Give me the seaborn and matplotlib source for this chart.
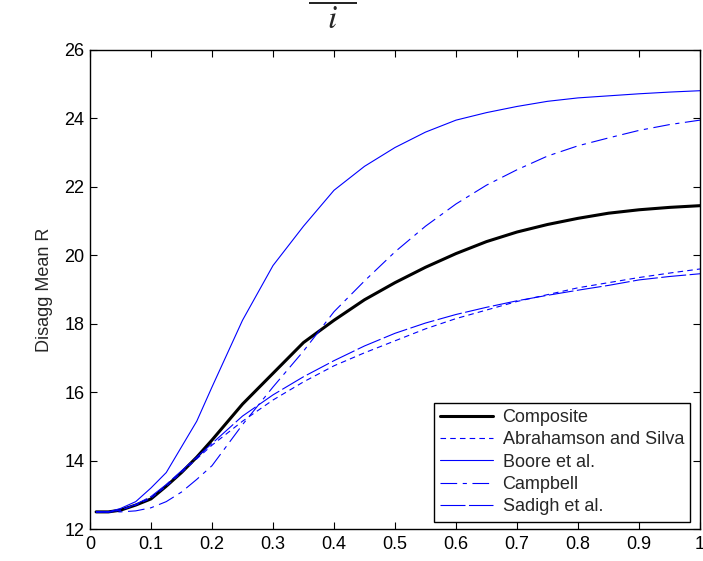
import pandas as pd
import matplotlib.pyplot as plt
import seaborn as sns

# valores
x_vals = [0.01, 0.03, 0.05, 0.075, 0.1, 0.125, 0.15, 0.175, 0.2, 0.25, 0.3, 0.35,
          0.4, 0.45, 0.5, 0.55, 0.6, 0.65, 0.7, 0.75, 0.8, 0.85, 0.9, 0.95, 1.0]

composite = [12.5, 12.5, 12.55, 12.7, 12.88, 13.25, 13.65, 14.1, 14.6, 15.65, 16.55, 17.45,
             18.1, 18.7, 19.2, 19.65, 20.05, 20.4, 20.68, 20.9, 21.08, 21.23, 21.33, 21.4, 21.45]
abrahamson = [12.5, 12.5, 12.55, 12.7, 12.9, 13.25, 13.65, 14.05, 14.45, 15.15, 15.77, 16.3,
              16.77, 17.15, 17.5, 17.85, 18.15, 18.4, 18.65, 18.85, 19.05, 19.2, 19.35, 19.48, 19.6]
boore = [12.5, 12.5, 12.6, 12.8, 13.2, 13.65, 14.4, 15.15, 16.15, 18.1, 19.7, 20.85,
         21.9, 22.6, 23.15, 23.6, 23.95, 24.17, 24.35, 24.5, 24.6, 24.66, 24.72, 24.77, 24.81]
campbell = [12.5, 12.5, 12.5, 12.53, 12.62, 12.8, 13.08, 13.45, 13.85, 15.05, 16.15, 17.2,
            18.35, 19.25, 20.1, 20.85, 21.5, 22.05, 22.5, 22.9, 23.2, 23.43, 23.65, 23.82, 23.95]
sadigh = [12.5, 12.5, 12.55, 12.72, 12.95, 13.3, 13.7, 14.1, 14.5, 15.3, 15.92, 16.45,
          16.92, 17.35, 17.72, 18.02, 18.27, 18.48, 18.67, 18.83, 18.98, 19.12, 19.28, 19.38, 19.46]

labels = ['Composite', 'Abrahamson and Silva', 'Boore et al.', 'Campbell', 'Sadigh et al.']
series = [composite, abrahamson, boore, campbell, sadigh]

x_ticks = [0, 0.1, 0.2, 0.3, 0.4, 0.5, 0.6, 0.7, 0.8, 0.9, 1]
x_tick_labels = ['0', '0.1', '0.2', '0.3', '0.4', '0.5', '0.6', '0.7', '0.8', '0.9', '1']
y_ticks = [12, 14, 16, 18, 20, 22, 24, 26]

sns.set_style('ticks')
plt.rcParams['font.family'] = ['Liberation Sans', 'DejaVu Sans']
plt.rcParams['mathtext.fontset'] = 'stix'
plt.rcParams['lines.scale_dashes'] = False

fig = plt.figure(figsize=(7.03, 5.61), dpi=100)
ax = fig.add_axes([90 / 703, 1 - 529 / 561, 610 / 703, 479 / 561])

estilos = {
    'Composite': dict(color='black', lw=2.2, linestyle='-'),
    'Abrahamson and Silva': dict(color='#0000FF', lw=0.8, linestyle=(0, (4, 3))),
    'Boore et al.': dict(color='#0000FF', lw=0.8, linestyle='-'),
    'Campbell': dict(color='#0000FF', lw=0.8, linestyle=(0, (12, 4, 3, 4))),
    'Sadigh et al.': dict(color='#0000FF', lw=0.8, linestyle=(0, (18, 2.5))),
}

for nombre, valores in zip(labels, series):
    df = pd.DataFrame({'x': x_vals, 'y': valores})
    sns.lineplot(x='x', y='y', data=df, ax=ax, label=nombre, **estilos[nombre])

ax.set_xlim(0, 1)
ax.set_ylim(12, 26)
ax.set_xticks(x_ticks)
ax.set_xticklabels(x_tick_labels)
ax.set_yticks(y_ticks)
ax.set_xlabel('')
ax.set_ylabel('Disagg Mean R', fontsize=13, labelpad=8)
ax.tick_params(direction='in', length=5, width=0.8, top=True, right=True,
               labelsize=13, colors='black')
ax.tick_params(axis='x', pad=5)
ax.tick_params(axis='y', pad=4)
for s in ax.spines.values():
    s.set_visible(True)
    s.set_color('black')
    s.set_linewidth(1.0)

leg = ax.legend(loc='lower right', bbox_to_anchor=(0.984, 0.015), fontsize=13,
                frameon=True, fancybox=False, framealpha=1, edgecolor='black',
                handlelength=2.9, handletextpad=0.55, labelspacing=0.3,
                borderpad=0.35, borderaxespad=0)
leg.get_frame().set_linewidth(1.0)

# titulo cortado arriba (fraccion, el numerador queda fuera de la figura)
fig.text(0.472, 1 - 2 / 561, r'$\dfrac{\mathrm{Mn}}{i}$', fontsize=24,
         ha='center', va='center')

fig.savefig('out.png', dpi=100)
